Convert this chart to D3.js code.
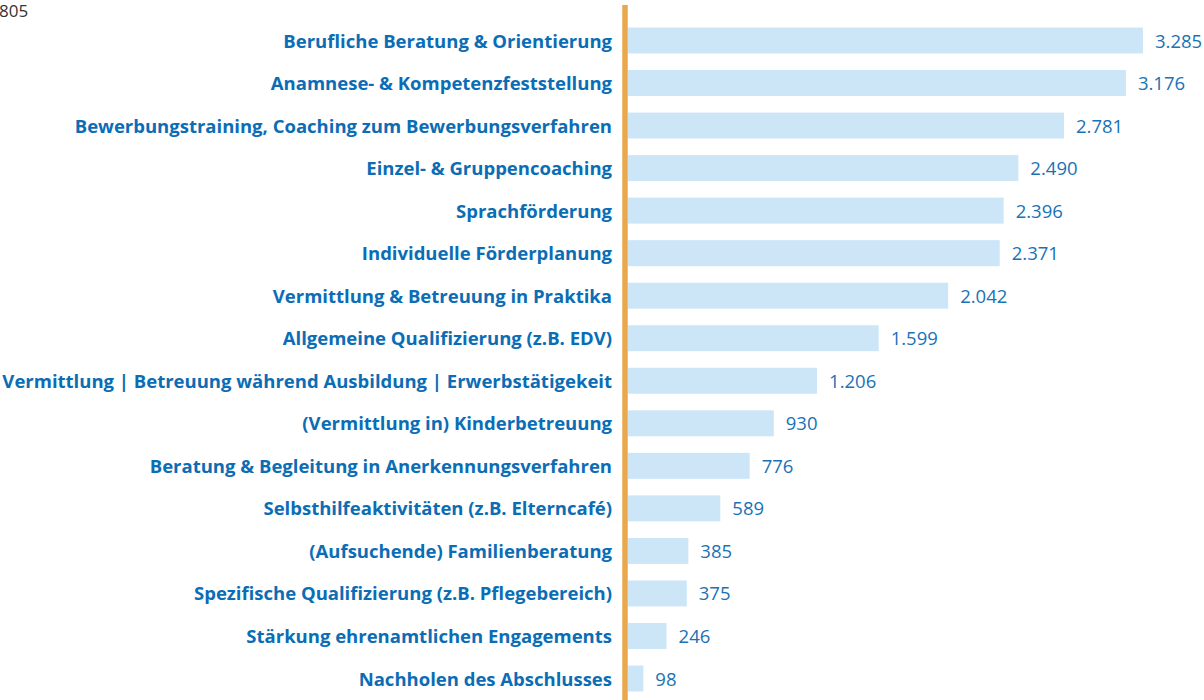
<!DOCTYPE html>
<html>
<head>
<meta charset="utf-8">
<script src="https://cdn.jsdelivr.net/npm/d3@7"></script>
<style>
  body { margin: 0; background: #fff; }
  svg { display: block; }
</style>
</head>
<body>
<svg width="1204" height="700"></svg>
<script>
// Kategorien und Werte (Anzahl)
var categories = [
  "Berufliche Beratung & Orientierung",
  "Anamnese- & Kompetenzfeststellung",
  "Bewerbungstraining, Coaching zum Bewerbungsverfahren",
  "Einzel- & Gruppencoaching",
  "Sprachförderung",
  "Individuelle Förderplanung",
  "Vermittlung & Betreuung in Praktika",
  "Allgemeine Qualifizierung (z.B. EDV)",
  "Vermittlung | Betreuung während Ausbildung | Erwerbstätigekeit",
  "(Vermittlung in) Kinderbetreuung",
  "Beratung & Begleitung in Anerkennungsverfahren",
  "Selbsthilfeaktivitäten (z.B. Elterncafé)",
  "(Aufsuchende) Familienberatung",
  "Spezifische Qualifizierung (z.B. Pflegebereich)",
  "Stärkung ehrenamtlichen Engagements",
  "Nachholen des Abschlusses"
];
var values = [3285, 3176, 2781, 2490, 2396, 2371, 2042, 1599, 1206, 930, 776, 589, 385, 375, 246, 98];
var cutLabel = "805";

var svg = d3.select("svg");

var x0 = 628;
var x = d3.scaleLinear().domain([0, 3285]).range([x0, 1143]);
var y = d3.scaleBand().domain(categories).range([19, 700]).paddingInner(0.39).paddingOuter(0.2);

// abgeschnittene Zahl oben links
svg.append("text")
  .attr("x", -1).attr("y", 17)
  .attr("font-family", "Open Sans")
  .attr("font-size", 17)
  .attr("fill", "#333")
  .text(cutLabel);

svg.selectAll("rect.bar")
  .data(values)
  .enter()
  .append("rect")
  .attr("class", "bar")
  .attr("x", x0)
  .attr("y", function(d, i) { return y(categories[i]); })
  .attr("width", function(d) { return x(d) - x0; })
  .attr("height", y.bandwidth())
  .attr("fill", "#cce6f7");

svg.selectAll("text.cat")
  .data(categories)
  .enter()
  .append("text")
  .attr("class", "cat")
  .attr("x", 612)
  .attr("y", function(d) { return y(d) + y.bandwidth() / 2; })
  .attr("dy", "0.38em")
  .attr("text-anchor", "end")
  .attr("font-family", "Open Sans")
  .attr("font-weight", "bold")
  .attr("font-size", 18.5)
  .attr("fill", "#0a6db5")
  .text(function(d) { return d; });

var fmt = d3.formatLocale({ decimal: ",", thousands: ".", grouping: [3], currency: ["", "€"] }).format(",d");

svg.selectAll("text.val")
  .data(values)
  .enter()
  .append("text")
  .attr("class", "val")
  .attr("x", function(d) { return x(d) + 12; })
  .attr("y", function(d, i) { return y(categories[i]) + y.bandwidth() / 2; })
  .attr("dy", "0.38em")
  .attr("font-family", "Open Sans")
  .attr("font-size", 18.5)
  .attr("fill", "#1a72b6")
  .text(function(d) { return fmt(d); });

// senkrechte Linie
svg.append("line")
  .attr("x1", 625).attr("x2", 625)
  .attr("y1", 5).attr("y2", 700)
  .attr("stroke", "#e9a84c")
  .attr("stroke-width", 5.5);
</script>
</body>
</html>
